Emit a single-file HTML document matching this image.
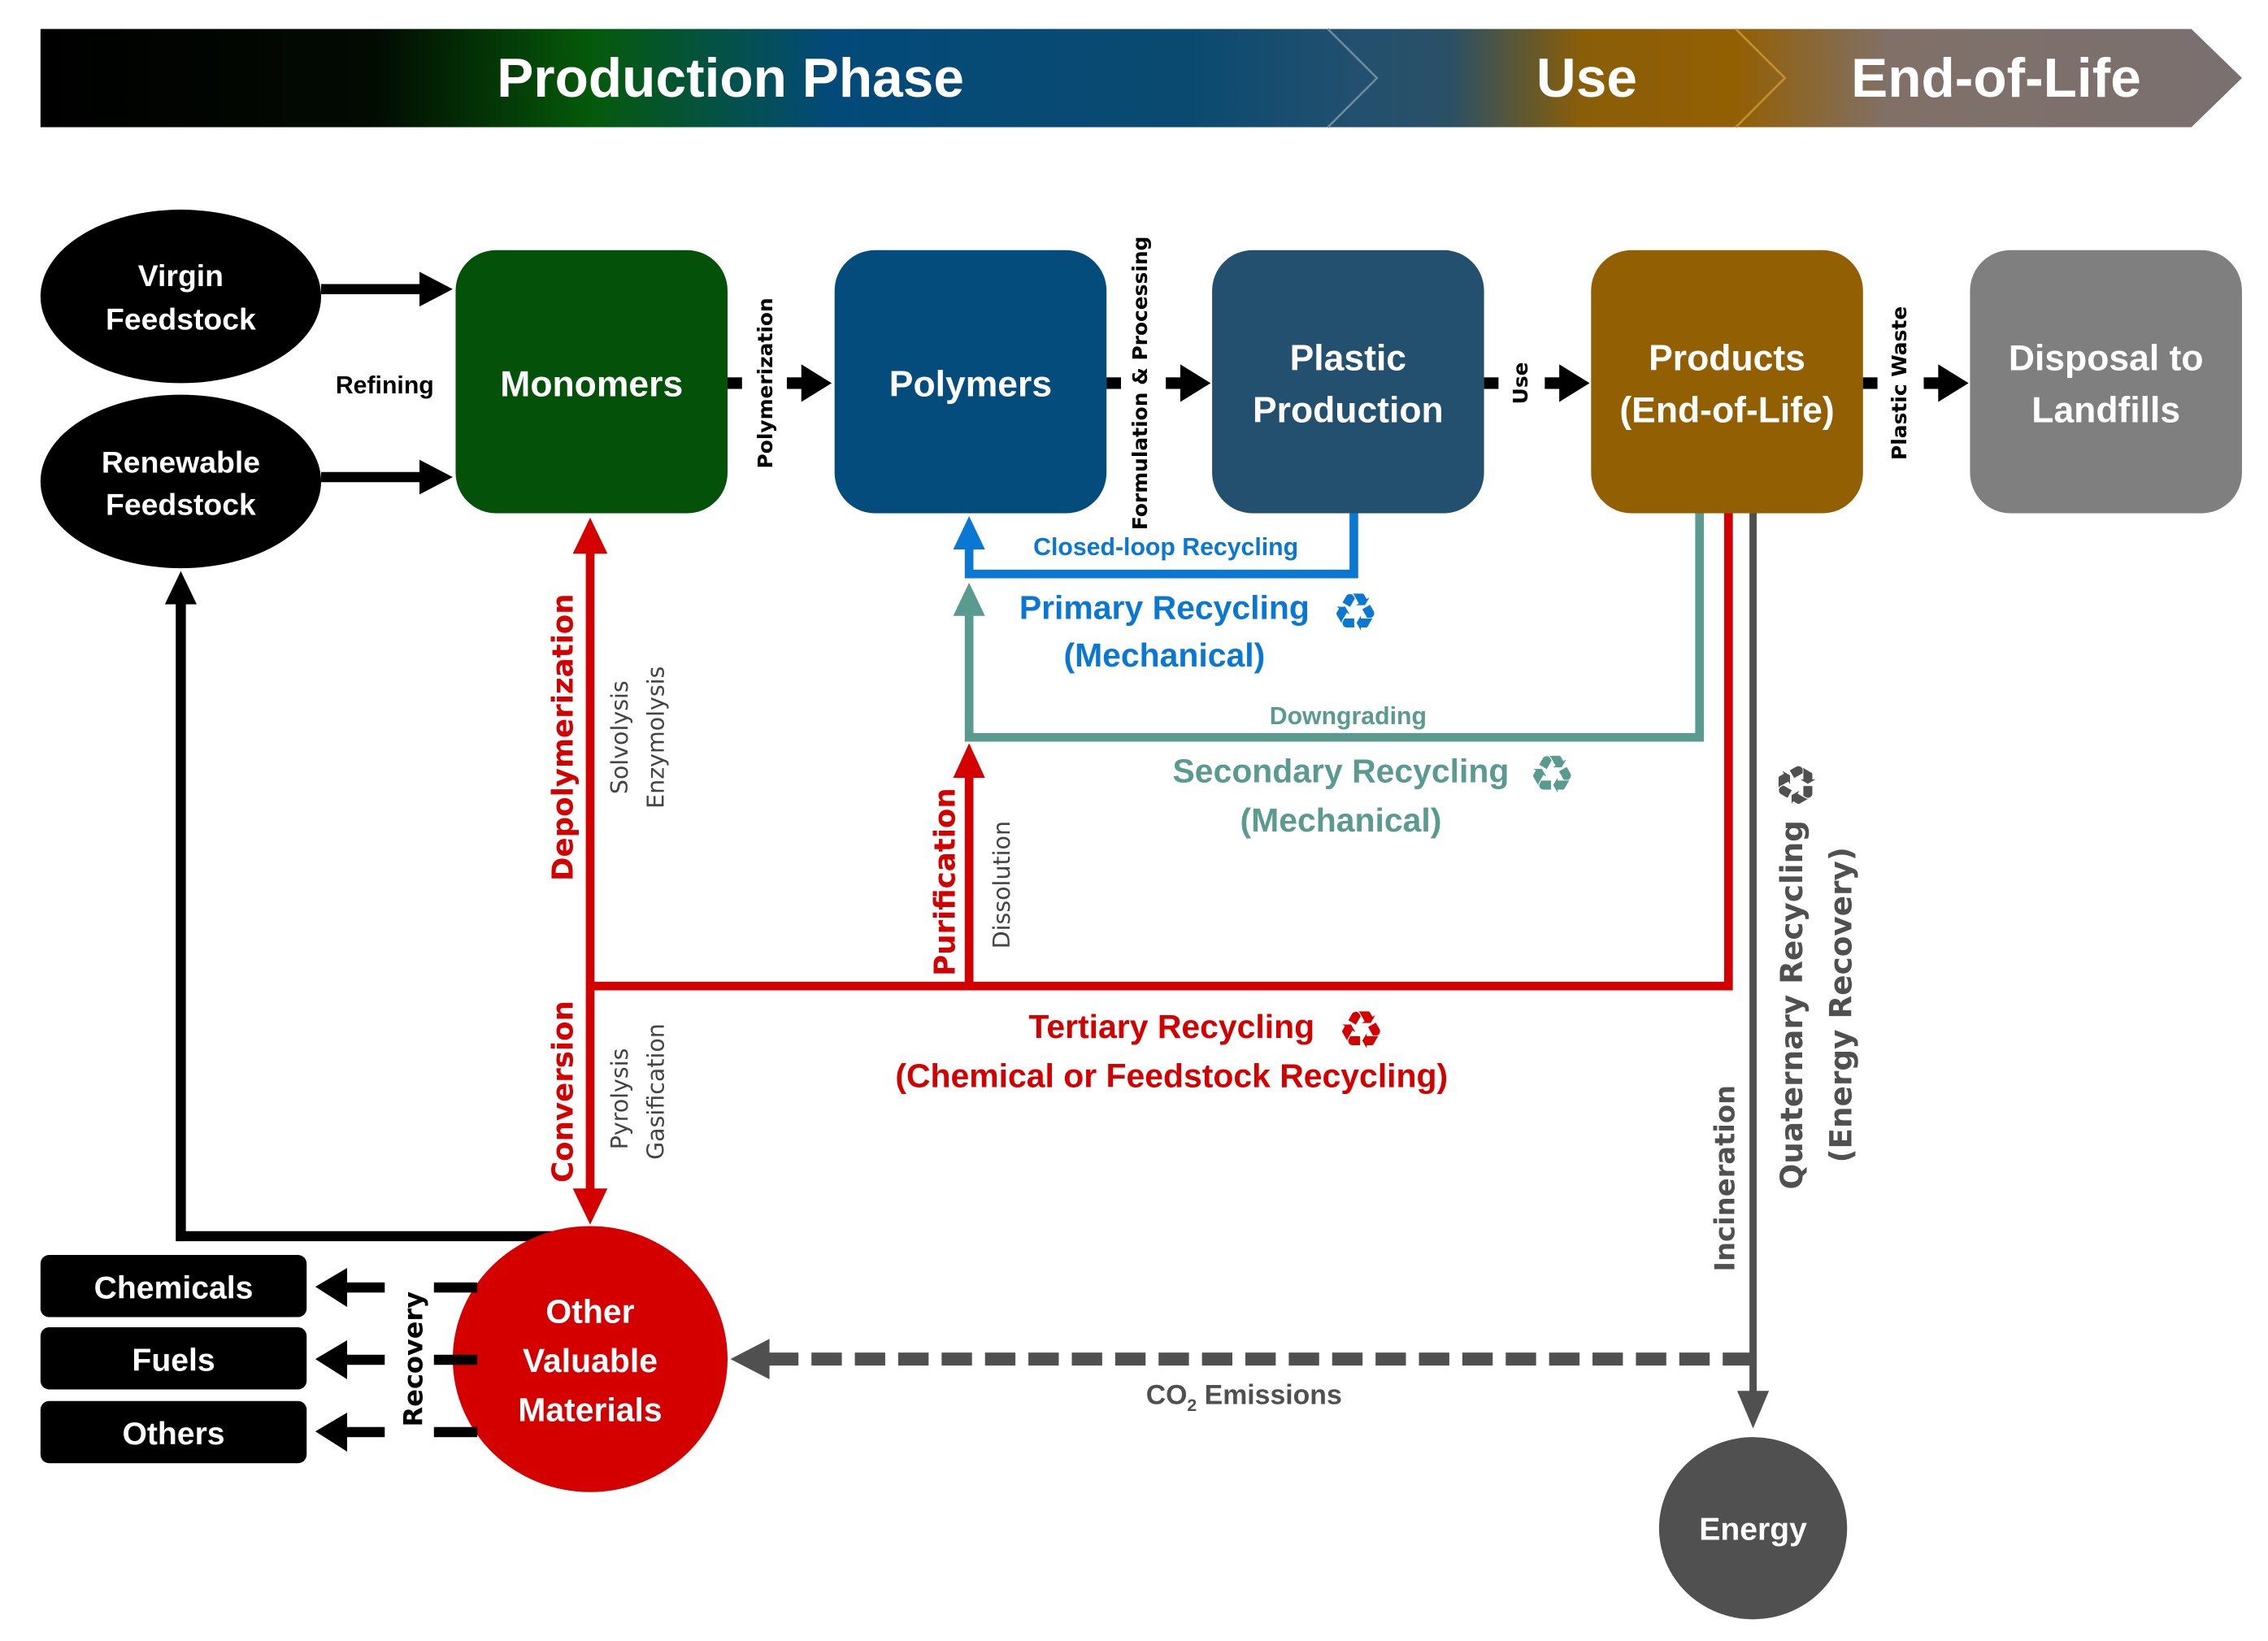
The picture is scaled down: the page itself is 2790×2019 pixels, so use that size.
<!DOCTYPE html>
<html><head><meta charset="utf-8"><style>html,body{margin:0;padding:0;background:#fff}svg{display:block}</style></head><body>
<svg width="2790" height="2019" viewBox="0 0 1568 1135" preserveAspectRatio="none" xmlns="http://www.w3.org/2000/svg" font-family="Liberation Sans, sans-serif" font-weight="bold">
<defs>
<linearGradient id="bg" x1="28" y1="0" x2="1550" y2="0" gradientUnits="userSpaceOnUse">
<stop offset="0" stop-color="#000"/><stop offset="0.15" stop-color="#020a02"/><stop offset="0.25" stop-color="#055a0a"/><stop offset="0.36" stop-color="#034a7a"/><stop offset="0.52" stop-color="#0a4a70"/><stop offset="0.6" stop-color="#23506e"/><stop offset="0.64" stop-color="#2a5066"/><stop offset="0.7" stop-color="#8a5e08"/><stop offset="0.77" stop-color="#935f03"/><stop offset="0.84" stop-color="#807068"/><stop offset="1" stop-color="#7a7070"/>
</linearGradient>
</defs>
<polygon points="28,20 1515,20 1550,54 1515,88 28,88" fill="url(#bg)"/>
<polyline points="918,20 952,54 918,88" fill="none" stroke="#6a8aa0" stroke-width="1.5"/>
<polyline points="1200,20 1234,54 1200,88" fill="none" stroke="#c09030" stroke-width="1.5"/>
<g fill="#fff" font-size="38" text-anchor="middle"><text x="505" y="67">Production Phase</text><text x="1097" y="67">Use</text><text x="1380" y="67">End-of-Life</text></g>

<ellipse cx="125" cy="205" rx="97" ry="60" fill="#000"/>
<ellipse cx="125" cy="333" rx="97" ry="60" fill="#000"/>
<g fill="#fff" font-size="21" text-anchor="middle"><text x="125" y="198">Virgin</text><text x="125" y="228">Feedstock</text><text x="125" y="327">Renewable</text><text x="125" y="356">Feedstock</text></g>
<g stroke="#000" stroke-width="7" fill="#000"><line x1="222" y1="200" x2="292" y2="200"/><line x1="222" y1="330" x2="292" y2="330"/></g>
<polygon points="290,188 313,200 290,212" fill="#000"/><polygon points="290,318 313,330 290,342" fill="#000"/>
<text x="266" y="272" font-size="17" text-anchor="middle">Refining</text>

<rect x="315" y="173" width="188" height="182" rx="28" fill="#045209"/>
<rect x="577" y="173" width="188" height="182" rx="28" fill="#034c7c"/>
<rect x="838" y="173" width="188" height="182" rx="28" fill="#23506e"/>
<rect x="1100" y="173" width="188" height="182" rx="28" fill="#935f03"/>
<rect x="1362" y="173" width="188" height="182" rx="28" fill="#7f7f7f"/>
<g fill="#fff" font-size="25" text-anchor="middle">
<text x="409" y="274">Monomers</text><text x="671" y="274">Polymers</text>
<text x="932" y="256">Plastic</text><text x="932" y="292">Production</text>
<text x="1194" y="256">Products</text><text x="1194" y="292">(End-of-Life)</text>
<text x="1456" y="256">Disposal to</text><text x="1456" y="292">Landfills</text></g>

<g fill="#000">
<rect x="503" y="261" width="10" height="8"/><rect x="544" y="261" width="12" height="8"/><polygon points="554,252 575,265 554,278"/>
<rect x="765" y="261" width="10" height="8"/><rect x="806" y="261" width="12" height="8"/><polygon points="816,252 837,265 816,278"/>
<rect x="1026" y="261" width="10" height="8"/><rect x="1068" y="261" width="12" height="8"/><polygon points="1078,252 1099,265 1078,278"/>
<rect x="1288" y="261" width="10" height="8"/><rect x="1330" y="261" width="12" height="8"/><polygon points="1340,252 1361,265 1340,278"/>
</g>
<g font-family="DejaVu Sans, sans-serif" font-size="14" fill="#000" text-anchor="middle">
<text transform="translate(534,265) rotate(-90)">Polymerization</text>
<text transform="translate(793,265) rotate(-90)">Formulation &amp; Processing</text>
<text transform="translate(1056,265) rotate(-90)">Use</text>
<text transform="translate(1318,265) rotate(-90)">Plastic Waste</text>
</g>

<polyline points="936,355 936,397 670,397 670,375" fill="none" stroke="#0a78d2" stroke-width="6"/>
<polygon points="659,380 670,357 681,380" fill="#0a78d2"/>
<text x="806" y="384" font-size="17" fill="#0a78d2" text-anchor="middle">Closed-loop Recycling</text>
<text x="805" y="428" font-size="23" fill="#0a78d2" text-anchor="middle">Primary Recycling</text>
<text x="805" y="461" font-size="23" fill="#0a78d2" text-anchor="middle">(Mechanical)</text>
<text x="937" y="436" font-size="36" fill="#0a78d2" text-anchor="middle" font-family="DejaVu Sans, sans-serif" font-weight="normal">♻</text>

<polyline points="1175,355 1175,510 670,510 670,423" fill="none" stroke="#5a9a8f" stroke-width="6"/>
<polygon points="659,426 670,403 681,426" fill="#5a9a8f"/>
<text x="932" y="501" font-size="17" fill="#5a9a8f" text-anchor="middle">Downgrading</text>
<text x="927" y="541" font-size="23" fill="#5a9a8f" text-anchor="middle">Secondary Recycling</text>
<text x="927" y="575" font-size="23" fill="#5a9a8f" text-anchor="middle">(Mechanical)</text>
<text x="1073" y="548" font-size="36" fill="#5a9a8f" text-anchor="middle" font-family="DejaVu Sans, sans-serif" font-weight="normal">♻</text>

<polyline points="1195,355 1195,682 408,682" fill="none" stroke="#d40000" stroke-width="6"/>
<line x1="408" y1="380" x2="408" y2="825" stroke="#d40000" stroke-width="6"/>
<polygon points="396,383 408,358 420,383" fill="#d40000"/>
<polygon points="396,822 408,847 420,822" fill="#d40000"/>
<line x1="670" y1="682" x2="670" y2="535" stroke="#d40000" stroke-width="6"/>
<polygon points="659,538 670,514 681,538" fill="#d40000"/>
<g font-family="DejaVu Sans, sans-serif" text-anchor="middle">
<text transform="translate(396,510) rotate(-90)" font-size="20" fill="#d40000">Depolymerization</text>
<text transform="translate(434,510) rotate(-90)" font-size="16" fill="#444" font-weight="normal">Solvolysis</text>
<text transform="translate(459,510) rotate(-90)" font-size="16" fill="#444" font-weight="normal">Enzymolysis</text>
<text transform="translate(660,610) rotate(-90)" font-size="20" fill="#d40000">Purification</text>
<text transform="translate(698,612) rotate(-90)" font-size="16" fill="#444" font-weight="normal">Dissolution</text>
<text transform="translate(396,755) rotate(-90)" font-size="20" fill="#d40000">Conversion</text>
<text transform="translate(434,760) rotate(-90)" font-size="16" fill="#444" font-weight="normal">Pyrolysis</text>
<text transform="translate(459,755) rotate(-90)" font-size="16" fill="#444" font-weight="normal">Gasification</text>
<text transform="translate(1199,815) rotate(-90)" font-size="19" fill="#505050">Incineration</text>
<text transform="translate(1246,695) rotate(-90)" font-size="21" fill="#505050">Quaternary Recycling</text>
<text transform="translate(1280,695) rotate(-90)" font-size="21" fill="#505050">(Energy Recovery)</text>
</g>
<text x="810" y="718" font-size="23" fill="#d40000" text-anchor="middle">Tertiary Recycling</text>
<text x="810" y="752" font-size="23" fill="#d40000" text-anchor="middle">(Chemical or Feedstock Recycling)</text>
<text x="941" y="725" font-size="36" fill="#d40000" text-anchor="middle" font-family="DejaVu Sans, sans-serif" font-weight="normal">♻</text>
<text transform="translate(1255,543) rotate(-90)" font-size="36" fill="#505050" text-anchor="middle" font-family="DejaVu Sans, sans-serif" font-weight="normal">♻</text>

<line x1="1212" y1="355" x2="1212" y2="965" stroke="#505050" stroke-width="5"/>
<polygon points="1201,962 1212,988 1223,962" fill="#505050"/>
<line x1="1212" y1="940" x2="530" y2="940" stroke="#505050" stroke-width="9" stroke-dasharray="21,9"/>
<polygon points="532,926 505,940 532,954" fill="#505050"/>
<text x="860" y="971" font-size="19" fill="#505050" text-anchor="middle">CO<tspan font-size="12" dy="5">2</tspan><tspan dy="-5"> Emissions</tspan></text>
<ellipse cx="1212" cy="1057" rx="65" ry="63" fill="#505050"/>
<text x="1212" y="1065" font-size="22" fill="#fff" text-anchor="middle">Energy</text>

<polyline points="390,855 125,855 125,415" fill="none" stroke="#000" stroke-width="7"/>
<polygon points="114,418 125,395 136,418" fill="#000"/>

<ellipse cx="408" cy="940" rx="95" ry="92" fill="#d40000"/>
<g fill="#fff" font-size="23" text-anchor="middle"><text x="408" y="915">Other</text><text x="408" y="949">Valuable</text><text x="408" y="983">Materials</text></g>

<rect x="28" y="868" width="184" height="43" rx="6" fill="#000"/>
<rect x="28" y="918" width="184" height="43" rx="6" fill="#000"/>
<rect x="28" y="969" width="184" height="43" rx="6" fill="#000"/>
<g fill="#fff" font-size="22" text-anchor="middle"><text x="120" y="898">Chemicals</text><text x="120" y="948">Fuels</text><text x="120" y="999">Others</text></g>
<g fill="#000">
<rect x="300" y="887" width="30" height="7"/><rect x="300" y="937" width="30" height="7"/><rect x="300" y="987" width="30" height="7"/>
<rect x="236" y="887" width="30" height="7"/><rect x="236" y="937" width="30" height="7"/><rect x="236" y="987" width="30" height="7"/>
<polygon points="240,877 218,890 240,904"/><polygon points="240,927 218,940 240,954"/><polygon points="240,977 218,990 240,1004"/>
</g>
<text transform="translate(292,940) rotate(-90)" font-family="DejaVu Sans, sans-serif" font-size="18" fill="#000" text-anchor="middle">Recovery</text>
</svg>
</body></html>
